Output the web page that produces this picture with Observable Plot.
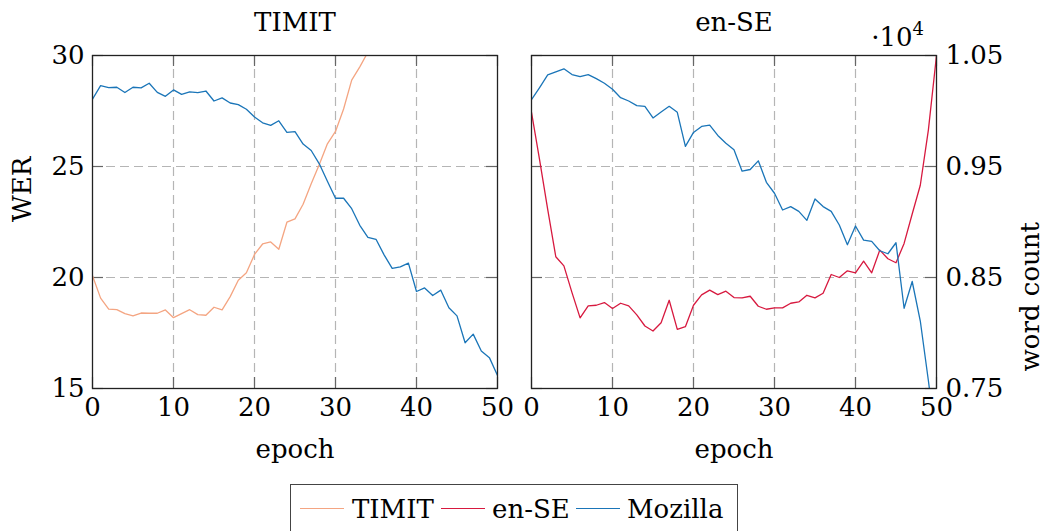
<!DOCTYPE html>
<html>
<head>
<meta charset="utf-8">
<script src="https://cdn.jsdelivr.net/npm/d3@7"></script>
<script src="https://cdn.jsdelivr.net/npm/@observablehq/plot@0.6"></script>
<style>
  body { margin: 0; background: #fff; font-family: "DejaVu Serif", serif; }
  #wrap { position: relative; width: 1047px; height: 531px; overflow: hidden; background: #fff; }
  #left, #right { position: absolute; top: 0; }
  #left { left: 0; }
  #right { left: 514px; }
  #legend { position: absolute; left: 290px; top: 484px; width: 448px; height: 60px;
            border: 1.3px solid #444; box-sizing: border-box; }
  .sw { position: absolute; top: 23px; height: 0; border-top: 1.6px solid; }
  .lt { position: absolute; top: 9px; font-size: 26px; line-height: 30px; color: #000; white-space: nowrap; }
</style>
</head>
<body>
<div id="wrap">
  <div id="left"></div>
  <div id="right"></div>
  <div id="legend"></div>
</div>
<script>
// ---- data ----
const epochs = [0,1,2,3,4,5,6,7,8,9,10,11,12,13,14,15,16,17,18,19,20,21,22,23,24,25,26,27,28,29,30,31,32,33,34,35,36,37,38,39,40,41,42,43,44,45,46,47,48,49,50];

// TIMIT panel (WER)
const timitWER = [20.08,19.07,18.58,18.55,18.37,18.27,18.40,18.39,18.39,18.54,18.19,18.37,18.55,18.33,18.30,18.66,18.54,19.14,19.88,20.21,21.04,21.51,21.60,21.27,22.49,22.64,23.30,24.22,25.09,26.02,26.58,27.59,28.89,29.49,30.15];
const mozillaWER = [28.03,28.64,28.55,28.57,28.33,28.57,28.54,28.75,28.34,28.16,28.45,28.25,28.36,28.33,28.40,27.95,28.09,27.86,27.79,27.58,27.23,26.97,26.85,27.06,26.54,26.57,26.01,25.72,25.12,24.34,23.57,23.57,23.10,22.35,21.81,21.72,21.02,20.41,20.48,20.65,19.37,19.53,19.19,19.43,18.64,18.27,17.06,17.45,16.69,16.39,15.59];

// en-SE panel (word count, x10^4)
const enseCount = [0.9988,0.9560,0.9114,0.8687,0.8605,0.8364,0.8136,0.8244,0.8250,0.8274,0.8220,0.8268,0.8244,0.8163,0.8063,0.8018,0.8093,0.8295,0.8033,0.8057,0.8250,0.8343,0.8386,0.8346,0.8377,0.8319,0.8316,0.8331,0.8241,0.8214,0.8226,0.8226,0.8268,0.8280,0.8340,0.8316,0.8358,0.8527,0.8500,0.8560,0.8542,0.8648,0.8542,0.8747,0.8669,0.8633,0.8807,0.9072,0.9331,0.9830,1.0500];
const mozillaCount = [1.0102,1.0211,1.0325,1.0352,1.0380,1.0328,1.0310,1.0328,1.0292,1.0250,1.0196,1.0120,1.0090,1.0048,1.0042,0.9937,0.9991,1.0042,0.9988,0.9681,0.9807,0.9861,0.9873,0.9780,0.9710,0.9651,0.9458,0.9473,0.9551,0.9358,0.9259,0.9108,0.9139,0.9096,0.9015,0.9208,0.9139,0.9096,0.8973,0.8795,0.8964,0.8837,0.8825,0.8741,0.8714,0.8813,0.8223,0.8464,0.8108,0.7570,0.7000];

const xTicks = [0,10,20,30,40,50];
const xGrid = [10,20,30,40];
const yTicksL = [15,20,25,30];
const yGridL = [20,25];
const yTicksR = [0.75,0.85,0.95,1.05];
const yGridR = [0.85,0.95];

const seriesNames = ["TIMIT","en-SE","Mozilla"];
const seriesColors = ["#f4a582","#d7193f","#1a75b8"];
const colorOf = Object.fromEntries(seriesNames.map((n,i)=>[n,seriesColors[i]]));

const rows = (vals, name) => vals.map((v,i)=>({epoch: epochs[i], value: v, series: name}));

// ---- layout ----
const H = 470, MT = 55, MB = 82;
const innerH = H - MT - MB;
const innerW = 405;
const TL = 11; // tick length
const FS = 26;
const gridStyle = {stroke: "#b5b5b5", strokeOpacity: 1, strokeDasharray: "9,5", strokeWidth: 1.2};
const tickStyle = {stroke: "#666", strokeOpacity: 1, strokeWidth: 1.2};
const baseStyle = {fontFamily: "DejaVu Serif", fontSize: FS + "px", background: "transparent", overflow: "visible", color: "#000"};

function frameTicks(yTicks) {
  return [
    Plot.tickX(xTicks, {x: d=>d, insetTop: innerH - TL, ...tickStyle}),
    Plot.tickX(xTicks, {x: d=>d, insetBottom: innerH - TL, ...tickStyle}),
    Plot.tickY(yTicks, {y: d=>d, insetRight: innerW - TL, ...tickStyle}),
    Plot.tickY(yTicks, {y: d=>d, insetLeft: innerW - TL, ...tickStyle})
  ];
}

const leftPlot = Plot.plot({
  width: 514, height: H,
  marginLeft: 92, marginRight: 17, marginTop: MT, marginBottom: MB,
  style: baseStyle,
  x: {domain: [0,50]},
  y: {domain: [15,30]},
  marks: [
    Plot.gridX(xGrid, gridStyle),
    Plot.gridY(yGridL, gridStyle),
    ...frameTicks(yTicksL),
    Plot.line(rows(timitWER, "TIMIT"), {x: "epoch", y: "value", stroke: colorOf["TIMIT"], strokeWidth: 1.3, clip: true}),
    Plot.line(rows(mozillaWER, "Mozilla"), {x: "epoch", y: "value", stroke: colorOf["Mozilla"], strokeWidth: 1.3, clip: true}),
    Plot.frame({stroke: "#222", strokeWidth: 1.3}),
    Plot.axisX({ticks: xTicks, tickSize: 0, tickPadding: 9, fontSize: FS, label: null, tickFormat: d=>String(d)}),
    Plot.axisY({ticks: yTicksL, tickSize: 0, tickPadding: 8, fontSize: FS, label: null, tickFormat: d=>String(d)}),
    Plot.text(["TIMIT"], {text: d=>d, frameAnchor: "top", dy: -33, lineAnchor: "middle", fontSize: FS}),
    Plot.text(["epoch"], {text: d=>d, frameAnchor: "bottom", dy: 61, lineAnchor: "middle", fontSize: FS}),
    Plot.text(["WER"], {text: d=>d, frameAnchor: "left", rotate: -90, dx: -70, lineAnchor: "middle", fontSize: FS})
  ]
});
document.getElementById("left").appendChild(leftPlot);

const fmt2 = d3.format(".2f");
const rightPlot = Plot.plot({
  width: 533, height: H,
  marginLeft: 17, marginRight: 111, marginTop: MT, marginBottom: MB,
  style: baseStyle,
  x: {domain: [0,50]},
  y: {domain: [0.75,1.05]},
  marks: [
    Plot.gridX(xGrid, gridStyle),
    Plot.gridY(yGridR, gridStyle),
    ...frameTicks(yTicksR),
    Plot.line(rows(enseCount, "en-SE"), {x: "epoch", y: "value", stroke: colorOf["en-SE"], strokeWidth: 1.3, clip: true}),
    Plot.line(rows(mozillaCount, "Mozilla"), {x: "epoch", y: "value", stroke: colorOf["Mozilla"], strokeWidth: 1.3, clip: true}),
    Plot.frame({stroke: "#222", strokeWidth: 1.3}),
    Plot.axisX({ticks: xTicks, tickSize: 0, tickPadding: 9, fontSize: FS, label: null, tickFormat: d=>String(d)}),
    Plot.axisY({anchor: "right", ticks: yTicksR, tickSize: 0, tickPadding: 9, fontSize: FS, label: null, tickFormat: fmt2}),
    Plot.text(["en-SE"], {text: d=>d, frameAnchor: "top", dy: -33, lineAnchor: "middle", fontSize: FS}),
    Plot.text(["epoch"], {text: d=>d, frameAnchor: "bottom", dy: 61, lineAnchor: "middle", fontSize: FS}),
    Plot.text(["word count"], {text: d=>d, frameAnchor: "right", rotate: -90, dx: 94, lineAnchor: "middle", fontSize: FS}),
    Plot.text(["·10"], {text: d=>d, frameAnchor: "top-right", textAnchor: "end", lineAnchor: "bottom", dx: -24, dy: -10, fontSize: FS}),
    Plot.text(["4"], {text: d=>d, frameAnchor: "top-right", textAnchor: "start", lineAnchor: "bottom", dx: -24, dy: -21, fontSize: 18})
  ]
});
document.getElementById("right").appendChild(rightPlot);

// ---- legend ----
const legend = document.getElementById("legend");
const legendPos = [{sw: 9, tx: 61}, {sw: 150, tx: 201}, {sw: 285, tx: 336}];
seriesNames.forEach((name, i) => {
  const sw = document.createElement("div");
  sw.className = "sw";
  sw.style.left = legendPos[i].sw + "px";
  sw.style.width = "44px";
  sw.style.borderTopColor = seriesColors[i];
  legend.appendChild(sw);
  const t = document.createElement("span");
  t.className = "lt";
  t.style.left = legendPos[i].tx + "px";
  t.textContent = name;
  legend.appendChild(t);
});
</script>
</body>
</html>
